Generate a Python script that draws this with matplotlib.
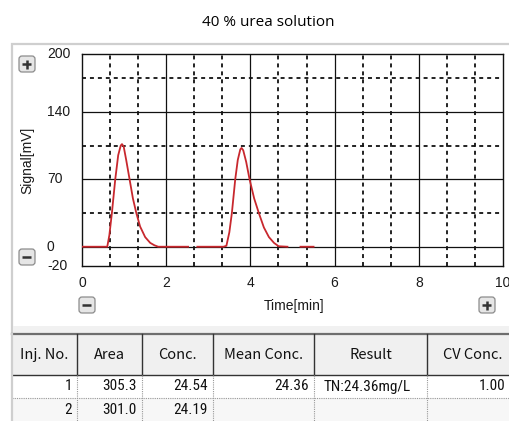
import numpy as np
import matplotlib
matplotlib.use("Agg")
import matplotlib.pyplot as plt
from matplotlib.patches import Rectangle, FancyBboxPatch
from matplotlib import font_manager

# ---------------- data ----------------
title = "40 % urea solution"
x_ticks = [0, 2, 4, 6, 8, 10]
y_ticks = [-20, 0, 70, 140, 200]
x_minor = [2/3, 4/3, 8/3, 10/3, 14/3, 16/3, 20/3, 22/3, 26/3, 28/3]
y_minor = [35, 105, 175]

trace1_t = [0.0, 0.60, 0.65, 0.71, 0.79, 0.86, 0.92, 0.95, 0.99, 1.05, 1.13, 1.21,
            1.29, 1.38, 1.50, 1.62, 1.72, 1.81, 2.52]
trace1_s = [0, 0, 12, 35, 70, 95, 105, 106.5, 104, 90, 70, 50,
            35, 21, 10, 4, 1.5, 0, 0]
trace2_t = [2.74, 3.36, 3.43, 3.50, 3.56, 3.64, 3.70, 3.76, 3.79, 3.83, 3.90, 3.98,
            4.09, 4.20, 4.32, 4.44, 4.56, 4.67, 4.88, np.nan, 5.19, 5.50]
trace2_s = [0, 0, 1, 15, 35, 70, 90, 101, 102.5, 100, 88, 70,
            50, 35, 20, 10, 4, 0.5, 0, np.nan, 0, 0]

col_headers = ["Inj. No.", "Area", "Conc.", "Mean Conc.", "Result", "CV Conc."]
inj_no = ["1", "2"]
area = ["305.3", "301.0"]
conc = ["24.54", "24.19"]
mean_conc = ["24.36", ""]
result = ["TN:24.36mg/L", ""]
cv_conc = ["1.00", ""]

# ---------------- fonts ----------------
names = {f.name for f in font_manager.fontManager.ttflist}
def pick(*cands):
    for c in cands:
        if c in names:
            return c
    return "DejaVu Sans"
sans = pick("Liberation Sans", "Arimo", "DejaVu Sans")
title_font = pick("Open Sans", "Noto Sans", "DejaVu Sans")
narrow = pick("Liberation Sans Narrow", "Roboto Condensed", "Noto Sans CJK JP", "Liberation Sans")
header_font = pick("Noto Sans CJK JP", "Liberation Sans")

W, H = 510, 421
fig = plt.figure(figsize=(W/100, H/100), dpi=100)
fig.patch.set_facecolor("white")

# background / overlay axes in pixel coordinates
bg = fig.add_axes([0, 0, 1, 1], zorder=0)
bg.set_xlim(0, W)
bg.set_ylim(H, 0)
bg.axis("off")

# panel
bg.add_patch(Rectangle((12, 44), 510, 290, facecolor="white", edgecolor="#cfcfcf", lw=1.6))
bg.add_patch(Rectangle((13, 326), 510, 7, facecolor="#f1f1f1", edgecolor="none"))

bg.text(268, 22, title, ha="center", va="center", fontsize=11, family=title_font, color="#000")

# ---------------- plot axes ----------------
L, R, T, B = 82, 503, 54, 266
ax = fig.add_axes([L/W, 1-B/H, (R-L)/W, (B-T)/H], zorder=2)
ax.set_xlim(0, 10)
ax.set_ylim(-20, 200)
ax.set_xticks([])
ax.set_yticks([])
for s in ax.spines.values():
    s.set_color("#111")
    s.set_linewidth(1.0)
for xv in x_ticks[1:-1]:
    ax.axvline(xv, color="#111", lw=0.9, zorder=1)
for yv in y_ticks[1:-1]:
    ax.axhline(yv, color="#111", lw=0.9, zorder=1)
for xv in x_minor:
    ax.axvline(xv, color="#111", lw=1.3, ls=(0, (2.2, 2.2)), zorder=1)
for yv in y_minor:
    ax.axhline(yv, color="#111", lw=1.3, ls=(0, (2.2, 2.2)), zorder=1)
ax.plot(trace1_t, trace1_s, color="#c8282e", lw=1.3, zorder=3)
ax.plot(trace2_t, trace2_s, color="#c8282e", lw=1.3, zorder=3)

# tick labels (in pixel coords on bg)
def ypix(v):
    return B - (v - (-20)) / 220 * (B - T)
def xpix(v):
    return L + v / 10 * (R - L)
tkw = dict(fontsize=10, family=sans, color="#1a1a1a")
for v in y_ticks:
    bg.text(47, ypix(v), str(v), ha="left", va="center", **tkw)
for v in x_ticks:
    bg.text(xpix(v), 283, str(v), ha="center", va="center", **tkw)
bg.text(27, 160, "Signal[mV]", rotation=90, ha="center", va="center", **tkw)
bg.text(294, 306, "Time[min]", ha="center", va="center", **tkw)

# zoom buttons
def button(cx, cy, sign):
    bg.add_patch(FancyBboxPatch((cx-8, cy-8), 16, 16, boxstyle="round,pad=0,rounding_size=3",
                                facecolor="#e6e6e6", edgecolor="#8c8c8c", lw=0.9, zorder=3))
    bg.plot([cx-4.5, cx+4.5], [cy, cy], color="#333", lw=1.8, zorder=4, solid_capstyle="butt")
    if sign == "+":
        bg.plot([cx, cx], [cy-4.5, cy+4.5], color="#333", lw=1.8, zorder=4, solid_capstyle="butt")
button(27, 64, "+")
button(27, 257, "-")
button(87, 305, "-")
button(487, 305, "+")

# ---------------- table ----------------
cols = [12, 77, 142, 213, 314, 427, 512]
ty0, ty1, ty2, ty3 = 334, 375, 398, 421
bg.add_patch(Rectangle((12, ty0), 500, ty1-ty0, facecolor="#f0f0f0", edgecolor="none", zorder=1))
bg.add_patch(Rectangle((12, ty2), 500, ty3-ty2, facecolor="#f7f7f7", edgecolor="none", zorder=1))
bg.plot([12, 512], [ty0, ty0], color="#6e6e6e", lw=1.6, zorder=2)
bg.plot([12, 512], [ty1, ty1], color="#333", lw=1.0, zorder=2)
bg.plot([12, 512], [ty2, ty2], color="#999", lw=0.8, ls=(0, (1, 1)), zorder=2)
bg.plot([12, 12], [ty0, ty3], color="#cfcfcf", lw=1.6, zorder=2)
for c in cols[1:-1]:
    bg.plot([c, c], [ty0, ty1], color="#333", lw=1.0, zorder=2)
    bg.plot([c, c], [ty1, ty3], color="#999", lw=0.8, ls=(0, (1, 1)), zorder=2)
for i, h in enumerate(col_headers):
    bg.text((cols[i] + min(cols[i+1], 510)) / 2 + (4 if i == 5 else 0), 355, h, ha="center", va="center",
            fontsize=10.5, family=header_font, color="#111")
rows_y = [(ty1 + ty2) / 2, (ty2 + ty3) / 2]
columns = [inj_no, area, conc, mean_conc, result, cv_conc]
for ci, colvals in enumerate(columns):
    for ri, val in enumerate(colvals):
        if not val:
            continue
        if ci == 4:
            bg.text(324, rows_y[ri], val, ha="left", va="center", fontsize=11, family=narrow, color="#111")
        else:
            bg.text(min(cols[ci+1], 510) - 5, rows_y[ri], val, ha="right", va="center",
                    fontsize=11, family=narrow, color="#111")

fig.savefig("out.png", dpi=100)
